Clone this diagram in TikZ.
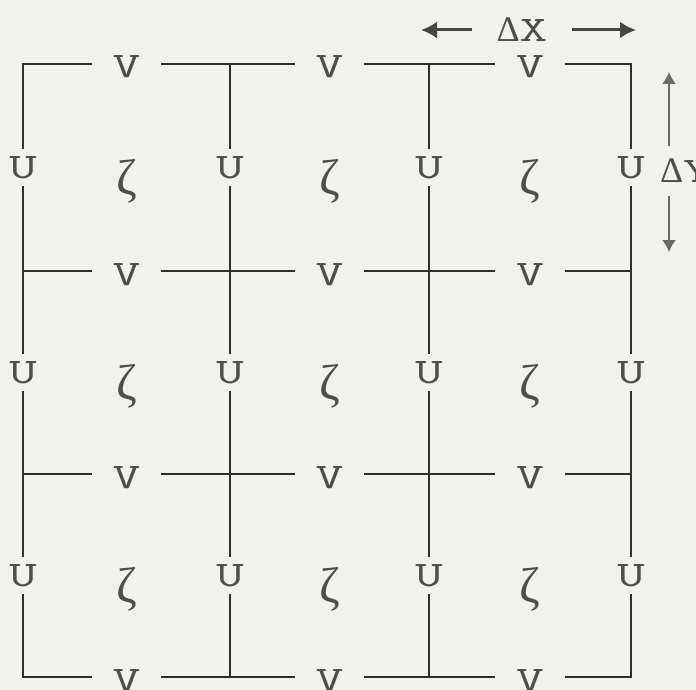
\documentclass[tikz,border=0pt]{standalone}
\usepackage{fontspec}
\newfontfamily\greekfont{Liberation Serif}
\newfontfamily\labfont[FakeStretch=1.5]{Latin Modern Mono}
\usetikzlibrary{arrows.meta,calc}
\definecolor{paper}{HTML}{F1F1EE}
\definecolor{gridC}{HTML}{2E2E2E}
\definecolor{labC}{HTML}{4E4E4E}
\definecolor{dimC}{HTML}{454545}
\definecolor{dimY}{HTML}{6A6A6A}
\tikzset{
  gline/.style={draw=gridC,line width=1.1pt,line cap=rect},
  ulab/.style={font=\fontsize{18}{20}\selectfont\labfont,text=labC,inner sep=0pt,outer sep=0pt,
    minimum width=12pt,minimum height=20pt},
  vlab/.style={font=\fontsize{18}{20}\selectfont\labfont,text=labC,inner sep=0pt,outer sep=0pt,
    minimum width=36pt,text height=14pt,text depth=0pt},
  zlab/.style={font=\fontsize{25}{28}\selectfont\greekfont,text=labC,inner sep=0pt,yshift=-7pt},
  dimlab/.style={font=\fontsize{18}{20}\selectfont\labfont,text=labC,inner sep=0pt,outer sep=0pt},
  xarrow/.style={-{Latex[length=8pt,width=8.5pt]},draw=dimC,line width=1.5pt},
  yarrow/.style={-{Latex[length=6pt,width=7pt]},draw=dimY,line width=0.8pt}}

\begin{document}
\begin{tikzpicture}[x=0.5pt,y=-0.5pt]
\fill[paper] (0,0) rectangle (696,690);
\useasboundingbox (0,0) rectangle (696,690);
% grid corners
\foreach \gx [count=\i from 0] in {23,230,429,631}
  \foreach \gy [count=\j from 0] in {64,271,474,677}
    \coordinate (g-\i-\j) at (\gx,\gy);
% V on horizontal edges, U on vertical edges, zeta in cells
\foreach \i/\ni in {0/1,1/2,2/3}
  \foreach \j in {0,...,3}
    \node[vlab] (v-\i-\j) at ($(g-\i-\j)!0.5!(g-\ni-\j)$) {V};
\foreach \i in {0,...,3}
  \foreach \j/\nj in {0/1,1/2,2/3}
    \node[ulab] (u-\i-\j) at ($(g-\i-\j)!0.5!(g-\i-\nj)$) {U};
\foreach \i/\ni in {0/1,1/2,2/3}
  \foreach \j/\nj in {0/1,1/2,2/3}
    \node[zlab] (z-\i-\j) at ($(g-\i-\j)!0.5!(g-\ni-\nj)$) {ζ};
% grid lines broken at the labels
\foreach \i in {0,...,3}
  \draw[gline] (g-\i-0) -- (u-\i-0) -- (g-\i-1) -- (u-\i-1) -- (g-\i-2) -- (u-\i-2) -- (g-\i-3);
\foreach \j in {0,...,3}
  \draw[gline] (g-0-\j) -- (v-0-\j) -- (g-1-\j) -- (v-1-\j) -- (g-2-\j) -- (v-2-\j) -- (g-3-\j);
% grid spacing
\node[dimlab,minimum width=50pt] (dX) at (522,30) {{\greekfont Δ}X};
\coordinate (dXl) at (421,30);
\coordinate (dXr) at (636,30);
\draw[xarrow] (dX) -- (dXl);
\draw[xarrow] (dX) -- (dXr);
\node[dimlab,anchor=west,minimum height=24.5pt] (dY) at (660,171) {{\greekfont Δ}Y};
\coordinate (dYt) at (669,72);
\coordinate (dYb) at (669,252);
\draw[yarrow] (dY.north -| dYt) -- (dYt);
\draw[yarrow] (dY.south -| dYt) -- (dYb);
\end{tikzpicture}
\end{document}
